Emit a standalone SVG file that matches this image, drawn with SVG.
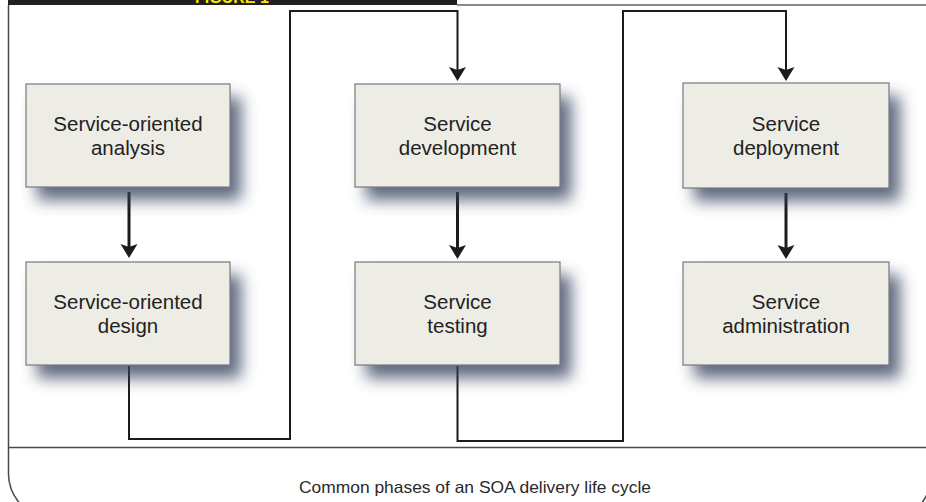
<svg xmlns="http://www.w3.org/2000/svg" width="926" height="502" viewBox="0 0 926 502">
  <defs>
    <filter id="soft" x="-30%" y="-40%" width="160%" height="180%">
      <feGaussianBlur stdDeviation="8"/>
    </filter>
    <marker id="head" markerUnits="userSpaceOnUse" markerWidth="22" markerHeight="22" viewBox="-5 -11 18 22" refX="0" refY="0" orient="auto">
      <path d="M11,0 L-3,-8.5 L0,0 L-3,8.5 Z" fill="#1c1c1c"/>
    </marker>
    <style>
      .box { fill: #edece5; stroke: #7a7a7a; stroke-width: 1.2; }
      .shadow { fill: #34435e; opacity: 0.8; filter: url(#soft); }
      .label { font-family: "Liberation Sans", Arial, sans-serif; font-size: 20.5px; fill: #222; text-anchor: middle; }
      .step { fill: none; stroke: #1c1c1c; stroke-width: 3; marker-end: url(#head); }
      .loop { fill: none; stroke: #1c1c1c; stroke-width: 2; marker-end: url(#head); }
      .frame { fill: none; stroke: #4a4a4a; stroke-width: 1.5; }
    </style>
  </defs>

  <rect x="0" y="0" width="926" height="502" fill="#ffffff"/>

  <!-- header band; its title runs off the top edge -->
  <rect x="8" y="0" width="449" height="5" fill="#231f20"/>
  <rect x="457" y="4" width="469" height="2" fill="#8a8a8a"/>
  <text x="232" y="3" font-family="Liberation Sans, Arial, sans-serif" font-size="16" font-weight="bold" fill="#f5e900" text-anchor="middle">FIGURE 1</text>

  <!-- outer frame with rounded bottom corners -->
  <path class="frame" d="M8.5,5 V474 Q8.5,494 26,510"/>
  <path class="frame" d="M915,510 Q929,498 932,478"/>
  <line class="frame" x1="8" y1="447.5" x2="926" y2="447.5"/>

  <!-- connectors -->
  <g id="connectors">
    <path class="step" d="M129,192 V247"/>
    <path class="step" d="M457.5,192 V248"/>
    <path class="step" d="M786,193 V248"/>
    <path class="loop" d="M129,366 V439 H290 V11 H457.5 V70"/>
    <path class="loop" d="M457.5,366 V441 H623 V11 H786 V70"/>
  </g>

  <!-- phase boxes -->
  <g id="analysis">
    <rect class="shadow" x="37" y="97" width="204" height="103"/>
    <rect class="box" x="26" y="84" width="204" height="103"/>
    <text class="label" x="128" y="131">Service-oriented</text>
    <text class="label" x="128" y="155">analysis</text>
  </g>
  <g id="design">
    <rect class="shadow" x="37" y="275" width="204" height="103"/>
    <rect class="box" x="26" y="262" width="204" height="103"/>
    <text class="label" x="128" y="309">Service-oriented</text>
    <text class="label" x="128" y="333">design</text>
  </g>
  <g id="development">
    <rect class="shadow" x="366" y="97" width="205" height="103"/>
    <rect class="box" x="355" y="84" width="205" height="103"/>
    <text class="label" x="457.5" y="131">Service</text>
    <text class="label" x="457.5" y="155">development</text>
  </g>
  <g id="testing">
    <rect class="shadow" x="366" y="275" width="205" height="103"/>
    <rect class="box" x="355" y="262" width="205" height="103"/>
    <text class="label" x="457.5" y="309">Service</text>
    <text class="label" x="457.5" y="333">testing</text>
  </g>
  <g id="deployment">
    <rect class="shadow" x="694" y="96" width="206" height="105"/>
    <rect class="box" x="683" y="83" width="206" height="105"/>
    <text class="label" x="786" y="131">Service</text>
    <text class="label" x="786" y="155">deployment</text>
  </g>
  <g id="administration">
    <rect class="shadow" x="694" y="275" width="206" height="103"/>
    <rect class="box" x="683" y="262" width="206" height="103"/>
    <text class="label" x="786" y="309">Service</text>
    <text class="label" x="786" y="333">administration</text>
  </g>

  <!-- caption -->
  <text x="475" y="493" font-family="Liberation Sans, Arial, sans-serif" font-size="16.5" fill="#2a2a2a" text-anchor="middle" textLength="352" lengthAdjust="spacingAndGlyphs">Common phases of an SOA delivery life cycle</text>
</svg>
